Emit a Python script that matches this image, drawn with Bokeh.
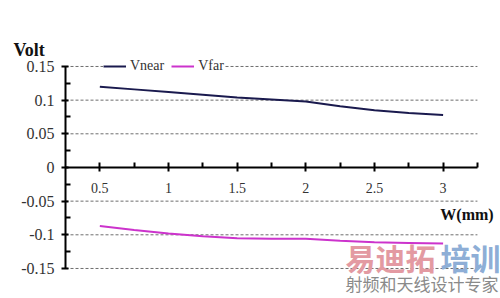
from bokeh.plotting import figure
from bokeh.models import (LinearAxis, FixedTicker, Range1d, Legend, LegendItem, Label)
from bokeh.embed import file_html
from bokeh.resources import INLINE

# ---- data ----
w_mm = [0.5, 0.75, 1.0, 1.25, 1.5, 1.75, 2.0, 2.25, 2.5, 2.75, 3.0]
v_near = [0.120, 0.116, 0.112, 0.108, 0.104, 0.101, 0.098, 0.091, 0.085, 0.081, 0.078]
v_far = [-0.087, -0.093, -0.098, -0.102, -0.105, -0.106, -0.106, -0.109, -0.111, -0.112, -0.113]

x_ticks = [0.5, 1.0, 1.5, 2.0, 2.5, 3.0]
x_tick_labels = ["0.5", "1", "1.5", "2", "2.5", "3"]
x_minor = [0.75, 1.25, 1.75, 2.25, 2.75, 3.25]
x_bounds = (0.25, 3.25)
y_ticks = [-0.15, -0.1, -0.05, 0.0, 0.05, 0.1, 0.15]
y_tick_labels = ["-0.15", "-0.1", "-0.05", "0", "0.05", "0.1", "0.15"]
y_minor = [-0.125, -0.075, -0.025, 0.025, 0.075, 0.125]
y_bounds = (-0.15, 0.15)

SERIF = "'Liberation Serif'"

p = figure(width=500, height=298, output_backend="svg", toolbar_location=None,
           x_range=Range1d(-0.2234, 3.418), y_range=Range1d(-0.1946, 0.248),
           x_axis_location=None, y_axis_location=None,
           min_border_left=0, min_border_right=0, min_border_top=0, min_border_bottom=0)
p.outline_line_color = None
p.background_fill_color = "white"
p.border_fill_color = "white"
p.grid.visible = False

# dashed horizontal grid lines between the axis bounds
grid_y = [t for t in y_ticks if t != 0.0]
p.segment(x0=[x_bounds[0]] * len(grid_y), x1=[x_bounds[1]] * len(grid_y), y0=grid_y, y1=grid_y,
          line_color="#6e6e6e", line_dash="3 2", line_width=1)

# y axis
yaxis = LinearAxis(ticker=FixedTicker(ticks=y_ticks, minor_ticks=y_minor),
                   major_label_overrides={t: s for t, s in zip(y_ticks, y_tick_labels)},
                   fixed_location=x_bounds[0], bounds=y_bounds,
                   axis_line_width=2, axis_line_color="black",
                   major_tick_in=3, major_tick_out=4, major_tick_line_width=2,
                   minor_tick_in=5, minor_tick_out=0, minor_tick_line_width=2,
                   major_label_text_font=SERIF, major_label_text_font_size="16px",
                   major_label_text_color="#333333", major_label_standoff=7)
p.add_layout(yaxis, "left")

# x axis through zero
xaxis = LinearAxis(ticker=FixedTicker(ticks=x_ticks, minor_ticks=x_minor),
                   major_label_overrides={t: s for t, s in zip(x_ticks, x_tick_labels)},
                   fixed_location=0, bounds=x_bounds,
                   axis_line_width=2, axis_line_color="black",
                   major_tick_in=5, major_tick_out=4, major_tick_line_width=2,
                   minor_tick_in=5, minor_tick_out=0, minor_tick_line_width=2,
                   major_label_text_font=SERIF, major_label_text_font_size="14px",
                   major_label_text_color="#333333", major_label_standoff=12)
p.add_layout(xaxis, "below")

r1 = p.line(w_mm, v_near, line_color="#1a1a4e", line_width=2)
r2 = p.line(w_mm, v_far, line_color="#cc33cc", line_width=2)

legend = Legend(items=[LegendItem(label="Vnear", renderers=[r1]),
                       LegendItem(label="Vfar", renderers=[r2])],
                orientation="horizontal", location=(103, 224),
                label_text_font=SERIF, label_text_font_size="14px", label_text_color="#333333",
                glyph_width=23, glyph_height=12, label_standoff=4, spacing=7,
                padding=2, margin=0, border_line_color=None,
                background_fill_color="white", background_fill_alpha=1.0)
p.add_layout(legend)

p.add_layout(Label(x=-0.1287, y=0.1900, text="Volt", text_font=SERIF, text_font_style="bold",
                   text_font_size="18px", text_baseline="top", text_color="#111111"))
p.add_layout(Label(x=2.980, y=-0.0579, text="W(mm)", text_font=SERIF, text_font_style="bold",
                   text_font_size="16px", text_baseline="top", text_color="#111111"))

# watermark
CJK = "'Noto Sans CJK SC'"
p.add_layout(Label(x=2.289, y=-0.1329, text="易迪拓", text_font=CJK, text_font_style="bold",
                   text_font_size="30px", text_baseline="middle", text_color="#e39aa2"))
p.add_layout(Label(x=2.981, y=-0.1329, text="培训", text_font=CJK, text_font_style="bold",
                   text_font_size="30px", text_baseline="middle", text_color="#8eaed6"))
p.add_layout(Label(x=2.289, y=-0.1723, text="射频和天线设计专家", text_font=CJK,
                   text_font_size="17px", text_baseline="middle", text_color="#8a8a8a"))

open("out.html", "w").write(file_html(p, INLINE))
